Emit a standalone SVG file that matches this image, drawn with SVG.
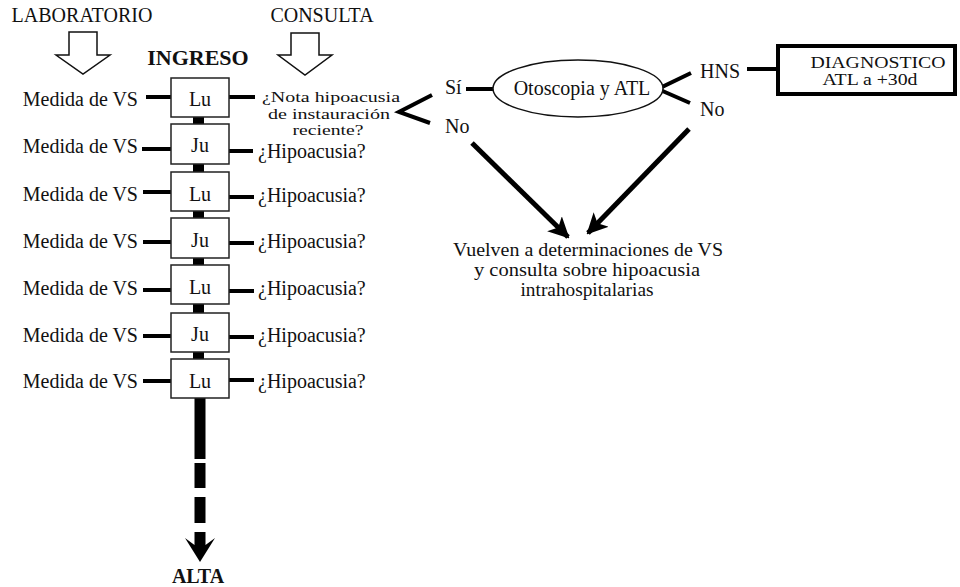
<svg xmlns="http://www.w3.org/2000/svg" width="960" height="587" viewBox="0 0 960 587">
<style>
text{font-family:'Liberation Serif','Times New Roman',serif;font-size:20px;fill:#111}
.b{font-weight:bold}
.m{text-anchor:middle}
.e{text-anchor:end}
.box{fill:#fff;stroke:#222;stroke-width:1.5}
.ln{stroke:#000;stroke-width:4;fill:none}
.hol{fill:#fff;stroke:#111;stroke-width:1.5;stroke-linejoin:miter}
.thk{stroke:#000;stroke-width:5;fill:none}
</style>
<defs>
<marker id="ah" viewBox="0 0 10 10" refX="9" refY="5" markerWidth="4.2" markerHeight="4.2" orient="auto" markerUnits="strokeWidth">
<path d="M0,0 L10,5 L0,10 L2.5,5 Z" fill="#000"/>
</marker>
</defs>
<rect width="960" height="587" fill="#fff"/>
<g id="titles">
<text x="82" y="22" class="m">LABORATORIO</text>
<text x="322" y="22" class="m">CONSULTA</text>
<text x="198" y="65" class="m b" style="font-size:22px">INGRESO</text>
<text x="198" y="583" class="m b">ALTA</text>
</g>

<g id="arrow-lab"><polygon class="hol" points="69,32 97,32 97,55 110,55 83,74 56,55 69,55"/></g>
<g id="arrow-con"><polygon class="hol" points="291,33 319,33 319,55 332,55 305,75 278,55 291,55"/></g>

<g id="connectors">
<rect x="193" y="117" width="11" height="7" fill="#000"/>
<rect x="193" y="164" width="11" height="8" fill="#000"/>
<rect x="193" y="211" width="11" height="7" fill="#000"/>
<rect x="193" y="258" width="11" height="7" fill="#000"/>
<rect x="193" y="304" width="11" height="9" fill="#000"/>
<rect x="193" y="352" width="11" height="7" fill="#000"/>
<line class="ln" x1="146" y1="97" x2="171" y2="97"/>
<line class="ln" x1="142" y1="149" x2="171" y2="149"/>
<line class="ln" x1="143" y1="192" x2="171" y2="192"/>
<line class="ln" x1="143" y1="242" x2="171" y2="242"/>
<line class="ln" x1="143" y1="290" x2="171" y2="290"/>
<line class="ln" x1="143" y1="336" x2="171" y2="336"/>
<line class="ln" x1="143" y1="381" x2="171" y2="381"/>
<line class="ln" x1="229" y1="97" x2="255" y2="97"/>
<line class="ln" x1="229" y1="151" x2="253" y2="151"/>
<line class="ln" x1="229" y1="197" x2="254" y2="197"/>
<line class="ln" x1="229" y1="243" x2="254" y2="243"/>
<line class="ln" x1="229" y1="291" x2="254" y2="291"/>
<line class="ln" x1="229" y1="337" x2="254" y2="337"/>
<line class="ln" x1="229" y1="380" x2="254" y2="380"/>
<rect x="194.5" y="398" width="11" height="61" fill="#000"/>
<rect x="194.5" y="463" width="11" height="25" fill="#000"/>
<rect x="194.5" y="497" width="11" height="26" fill="#000"/>
<polygon points="194.5,532 205.5,532 205.5,545 215,538 200,562 185,538 194.5,545" fill="#000"/>
<polyline class="ln" points="432,95 399,112 430,123"/>
<line class="ln" x1="466" y1="89" x2="494" y2="89"/>
<polyline class="ln" points="691,73 658,89 690,103"/>
<line class="ln" x1="747" y1="69" x2="777" y2="69"/>
<line class="thk" x1="472" y1="143" x2="568" y2="237" marker-end="url(#ah)"/>
<line class="thk" x1="689" y1="129" x2="588" y2="233" marker-end="url(#ah)"/>
</g>

<g id="n-lu1"><rect class="box" x="171" y="78" width="58" height="39"/><text x="200" y="106" class="m">Lu</text></g>
<g id="n-ju1"><rect class="box" x="171" y="124" width="58" height="40"/><text x="200" y="152" class="m">Ju</text></g>
<g id="n-lu2"><rect class="box" x="171" y="172" width="58" height="39"/><text x="200" y="201" class="m">Lu</text></g>
<g id="n-ju2"><rect class="box" x="171" y="218" width="58" height="40"/><text x="200" y="247" class="m">Ju</text></g>
<g id="n-lu3"><rect class="box" x="171" y="265" width="58" height="39"/><text x="200" y="294" class="m">Lu</text></g>
<g id="n-ju3"><rect class="box" x="171" y="313" width="58" height="39"/><text x="200" y="341" class="m">Ju</text></g>
<g id="n-lu4"><rect class="box" x="171" y="359" width="58" height="39"/><text x="200" y="388" class="m">Lu</text></g>

<g id="left-labels">
<text x="138" y="106" class="e">Medida de VS</text>
<text x="138" y="153" class="e">Medida de VS</text>
<text x="138" y="201" class="e">Medida de VS</text>
<text x="138" y="248" class="e">Medida de VS</text>
<text x="138" y="295" class="e">Medida de VS</text>
<text x="138" y="342" class="e">Medida de VS</text>
<text x="138" y="388" class="e">Medida de VS</text>
</g>

<g id="right-labels">
<text x="331" y="102" class="m" textLength="138" lengthAdjust="spacingAndGlyphs" style="font-size:15px">¿Nota hipoacusia</text>
<text x="329" y="118.5" class="m" textLength="122" lengthAdjust="spacingAndGlyphs" style="font-size:15px">de instauración</text>
<text x="328" y="135" class="m" textLength="71" lengthAdjust="spacingAndGlyphs" style="font-size:15px">reciente?</text>
<text x="258" y="158">¿Hipoacusia?</text>
<text x="258" y="202">¿Hipoacusia?</text>
<text x="258" y="248">¿Hipoacusia?</text>
<text x="258" y="295">¿Hipoacusia?</text>
<text x="258" y="342">¿Hipoacusia?</text>
<text x="258" y="388">¿Hipoacusia?</text>
</g>

<g id="n-si"><text x="445" y="94">Sí</text></g>
<g id="n-no1"><text x="445" y="133">No</text></g>
<g id="n-oto"><ellipse cx="578" cy="88.5" rx="85" ry="28.5" fill="#fff" stroke="#111" stroke-width="1.5"/><text x="582" y="95" class="m">Otoscopia y ATL</text></g>
<g id="n-hns"><text x="700" y="78">HNS</text></g>
<g id="n-no2"><text x="700" y="116">No</text></g>
<g id="n-diag"><rect x="778" y="46" width="177" height="48" fill="#fff" stroke="#000" stroke-width="4"/>
<text x="878" y="68" class="m" textLength="135" lengthAdjust="spacingAndGlyphs" style="font-size:16px">DIAGNOSTICO</text>
<text x="870" y="85" class="m" textLength="95" lengthAdjust="spacingAndGlyphs" style="font-size:16px">ATL a +30d</text></g>
<g id="n-vuelven">
<text x="588" y="256" class="m" textLength="270" lengthAdjust="spacingAndGlyphs" style="font-size:18px">Vuelven a determinaciones de VS</text>
<text x="587" y="276" class="m" textLength="226" lengthAdjust="spacingAndGlyphs" style="font-size:18px">y consulta sobre hipoacusia</text>
<text x="587" y="296" class="m" textLength="133" lengthAdjust="spacingAndGlyphs" style="font-size:18px">intrahospitalarias</text>
</g>
</svg>
